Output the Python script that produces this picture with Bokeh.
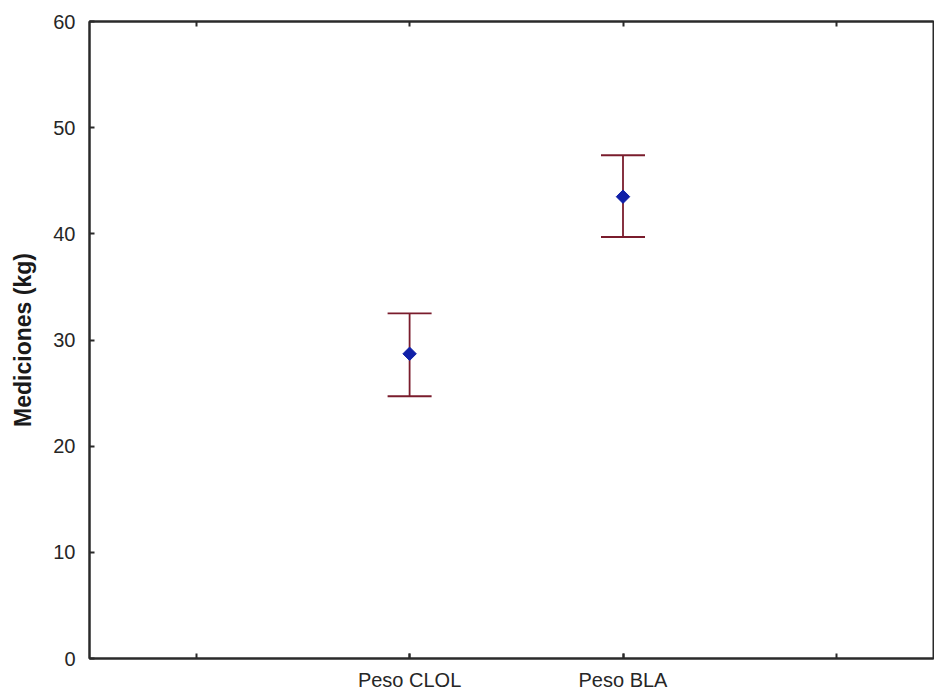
from bokeh.plotting import figure
from bokeh.models import Range1d, FixedTicker, LinearAxis, Whisker, TeeHead, ColumnDataSource
from bokeh.embed import file_html
from bokeh.resources import INLINE
import math

# ---- data ----
slot_labels = ["", "Peso CLOL", "Peso BLA", ""]
categories = ["Peso CLOL", "Peso BLA"]
means = [28.7, 43.5]
upper = [32.5, 47.4]
lower = [24.7, 39.7]
y_ticks = [0, 10, 20, 30, 40, 50, 60]

slot_pos = list(range(1, len(slot_labels) + 1))
x_pos = [slot_labels.index(c) + 1 for c in categories]

src = ColumnDataSource(dict(x=x_pos, mean=means, upper=upper, lower=lower, cat=categories))

FONT = "Liberation Sans"
AXIS_COLOR = "#2a2a2a"
LABEL_COLOR = "#262626"

p = figure(width=934, height=694, output_backend="svg", toolbar_location=None,
           x_range=Range1d(0.5, 4.455), y_range=Range1d(0, 60),
           min_border_left=89, min_border_right=1, min_border_top=21, min_border_bottom=36)

p.background_fill_color = "white"
p.border_fill_color = "white"
p.xgrid.visible = False
p.ygrid.visible = False
p.outline_line_color = AXIS_COLOR
p.outline_line_width = 2

def style_ticks(ax):
    ax.major_tick_in = 5
    ax.major_tick_out = 0
    ax.minor_tick_in = 5
    ax.minor_tick_out = 0
    ax.axis_line_color = AXIS_COLOR
    ax.axis_line_width = 2
    ax.major_tick_line_color = AXIS_COLOR
    ax.major_tick_line_width = 2
    ax.minor_tick_line_color = AXIS_COLOR
    ax.minor_tick_line_width = 2

# x axis (bottom): labelled slots as major ticks, all slots as (unlabelled) minor ticks
labelled = [slot_pos[i] for i, lab in enumerate(slot_labels) if lab]
xa = p.xaxis[0]
xa.ticker = FixedTicker(ticks=labelled, minor_ticks=slot_pos)
xa.major_label_overrides = {slot_pos[i]: lab for i, lab in enumerate(slot_labels) if lab}
style_ticks(xa)
xa.major_label_text_font = FONT
xa.major_label_text_font_size = "20px"
xa.major_label_text_color = LABEL_COLOR
xa.major_label_standoff = 10

# y axis (left)
ya = p.yaxis[0]
ya.ticker = FixedTicker(ticks=y_ticks)
style_ticks(ya)
ya.minor_tick_line_color = None
ya.major_label_text_font = FONT
ya.major_label_text_font_size = "20px"
ya.major_label_text_color = LABEL_COLOR
ya.major_label_standoff = 14
ya.axis_label = "Mediciones (kg)"
ya.axis_label_text_font = FONT
ya.axis_label_text_font_size = "23px"
ya.axis_label_text_font_style = "bold"
ya.axis_label_text_color = "#1a1a1a"
ya.axis_label_standoff = 14

# top axis: unlabelled ticks only
ta = LinearAxis(ticker=FixedTicker(ticks=[], minor_ticks=slot_pos))
style_ticks(ta)
ta.major_label_standoff = 0
p.add_layout(ta, "above")

# error bars
ERR_COLOR = "#7a1c2c"
w = Whisker(source=src, base="x", upper="upper", lower="lower", dimension="height",
            line_color=ERR_COLOR, line_width=1.8,
            upper_head=TeeHead(size=44, line_color=ERR_COLOR, line_width=1.8),
            lower_head=TeeHead(size=44, line_color=ERR_COLOR, line_width=1.8))
p.add_layout(w)

# means
p.scatter(x="x", y="mean", source=src, marker="square", size=9.5, angle=math.pi / 4,
          fill_color="#1020a8", line_color="#1020a8")

open("out.html", "w").write(file_html(p, INLINE))
